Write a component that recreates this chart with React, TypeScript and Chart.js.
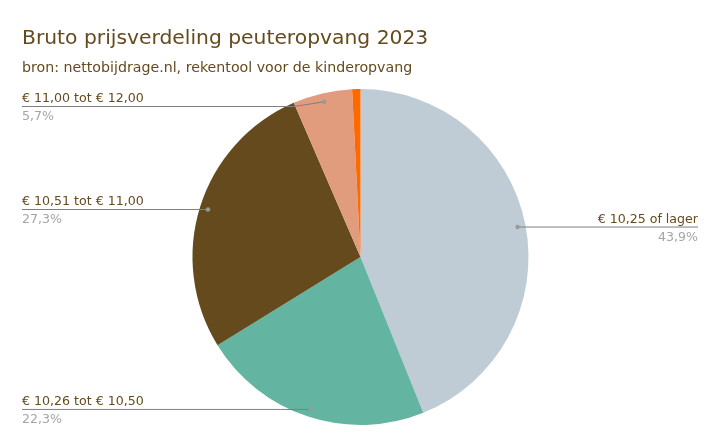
import React, { useEffect, useRef } from "react";
import { Chart, registerables } from "chart.js";

Chart.register(...registerables);

const categories = [
  "€ 10,25 of lager",
  "€ 10,26 tot € 10,50",
  "€ 10,51 tot € 11,00",
  "€ 11,00 tot € 12,00",
  "€ 12,00 of hoger",
];
const shares = [43.9, 22.3, 27.3, 5.7, 0.8];
const sliceColors = ["#BFCCD5", "#64B4A2", "#654A1E", "#E19C7E", "#FF6A00"];
const titleText = "Bruto prijsverdeling peuteropvang 2023";
const subtitleText = "bron: nettobijdrage.nl, rekentool voor de kinderopvang";

const FONT = "'DejaVu Sans', Verdana, sans-serif";
const BROWN = "#654A1E";

const labelPlugin = {
  id: "pieLabels",
  afterDraw(chart: any) {
    const ctx = chart.ctx;
    ctx.save();
    // title & subtitle
    ctx.fillStyle = BROWN;
    ctx.textAlign = "left";
    ctx.textBaseline = "alphabetic";
    ctx.font = `20.3px ${FONT}`;
    ctx.fillText(titleText, 22, 44);
    ctx.font = `14.2px ${FONT}`;
    ctx.fillText(subtitleText, 22, 72);

    const meta = chart.getDatasetMeta(0);
    const w = chart.width;
    meta.data.forEach((arc: any, i: number) => {
      const v = shares[i];
      if (v < 1) return;
      const mid = (arc.startAngle + arc.endAngle) / 2;
      const r = arc.outerRadius * 0.952;
      const dx = arc.x + Math.cos(mid) * r;
      const dy = arc.y + Math.sin(mid) * r;
      const right = Math.cos(mid) >= 0;
      const lineY = Math.max(dy, 106);
      const lx = right ? w - 23 : 22;
      ctx.strokeStyle = "#7F7F7F";
      ctx.lineWidth = 1;
      ctx.beginPath();
      ctx.moveTo(lx, lineY + 0.5);
      if (right) {
        ctx.lineTo(dx, dy + 0.5);
      } else {
        const bend = Math.max(lx, dx - 30);
        ctx.lineTo(bend, lineY + 0.5);
        ctx.lineTo(dx, dy + 0.5);
      }
      ctx.stroke();
      ctx.fillStyle = "#999999";
      ctx.beginPath();
      ctx.arc(dx, dy + 0.5, 2.2, 0, Math.PI * 2);
      ctx.fill();

      ctx.textAlign = right ? "right" : "left";
      ctx.font = `12.6px ${FONT}`;
      ctx.fillStyle = BROWN;
      ctx.fillText(categories[i], lx, lineY - 4);
      ctx.fillStyle = "#A5A5A5";
      ctx.fillText(v.toFixed(1).replace(".", ",") + "%", lx, lineY + 14);
    });
    ctx.restore();
  },
};

export default function App() {
  const ref = useRef<HTMLCanvasElement>(null);
  useEffect(() => {
    if (!ref.current) return;
    const chart = new Chart(ref.current, {
      type: "pie",
      data: {
        labels: categories,
        datasets: [
          {
            data: shares,
            backgroundColor: sliceColors,
            borderWidth: 0,
          },
        ],
      },
      options: {
        animation: false,
        responsive: true,
        maintainAspectRatio: false,
        layout: { padding: { top: 89, bottom: 23, left: 0, right: 0 } },
        plugins: {
          legend: { display: false },
          tooltip: { enabled: false },
          title: { display: false },
        },
      },
      plugins: [labelPlugin],
    });
    return () => chart.destroy();
  }, []);
  return (
    <div style={{ position: "fixed", left: 0, top: 0, width: 721, height: 448, background: "#fff" }}>
      <canvas ref={ref} />
    </div>
  );
}
